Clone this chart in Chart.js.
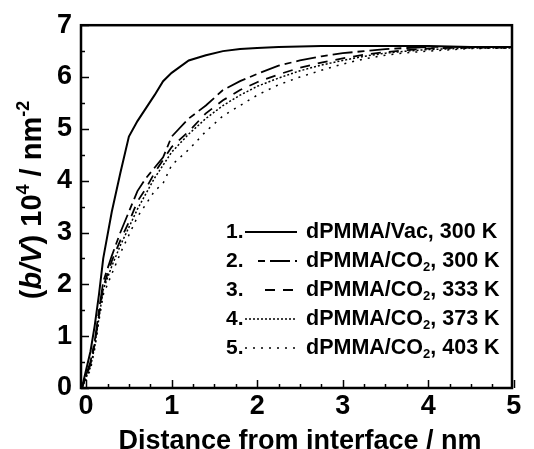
<!DOCTYPE html>
<html>
<head>
<meta charset="utf-8">
<script src="https://cdn.jsdelivr.net/npm/chart.js@4/dist/chart.umd.min.js"></script>
<style>
    html, body { margin: 0; padding: 0; background: #fff; }
    #wrap { width: 534px; height: 449px; }
</style>
</head>
<body>
<div id="wrap"><canvas id="chart" width="534" height="449"></canvas></div>
<script>
// Data
const distance = [-0.05, 0.05, 0.1, 0.15, 0.2, 0.3, 0.4, 0.5, 0.6, 0.7, 0.8, 0.9, 1.0, 1.2, 1.4, 1.6, 1.8, 2.0, 2.25, 2.5, 2.75, 3.0, 3.25, 3.5, 3.75, 4.0, 4.5, 5.0];
const vac300 = [0, 0.7, 1.2, 1.8, 2.5, 3.4, 4.15, 4.85, 5.15, 5.4, 5.65, 5.92, 6.08, 6.32, 6.42, 6.5, 6.54, 6.56, 6.58, 6.59, 6.6, 6.6, 6.6, 6.6, 6.6, 6.6, 6.58, 6.58];
const co2_300 = [0, 0.5, 0.9, 1.5, 2.05, 2.55, 3.0, 3.4, 3.8, 4.05, 4.25, 4.45, 4.85, 5.2, 5.45, 5.75, 5.92, 6.06, 6.22, 6.32, 6.4, 6.46, 6.5, 6.54, 6.56, 6.58, 6.58, 6.58];
const co2_333 = [0, 0.45, 0.85, 1.4, 1.95, 2.45, 2.85, 3.2, 3.6, 3.85, 4.15, 4.4, 4.65, 4.95, 5.3, 5.55, 5.75, 5.9, 6.05, 6.18, 6.28, 6.36, 6.43, 6.48, 6.52, 6.55, 6.57, 6.57];
const co2_373 = [0, 0.4, 0.8, 1.35, 1.9, 2.35, 2.75, 3.1, 3.45, 3.75, 4.05, 4.3, 4.55, 4.9, 5.2, 5.45, 5.65, 5.82, 5.98, 6.12, 6.23, 6.32, 6.4, 6.46, 6.5, 6.53, 6.56, 6.56];
const co2_403 = [0, 0.35, 0.75, 1.3, 1.8, 2.2, 2.6, 2.95, 3.3, 3.55, 3.8, 3.95, 4.3, 4.6, 4.95, 5.25, 5.45, 5.65, 5.85, 6.0, 6.13, 6.25, 6.35, 6.42, 6.47, 6.5, 6.55, 6.56];

const seriesLabels = ["dPMMA/Vac, 300 K", "dPMMA/CO2, 300 K", "dPMMA/CO2, 333 K", "dPMMA/CO2, 373 K", "dPMMA/CO2, 403 K"];
const xTicks = [0, 1, 2, 3, 4, 5];
const yTicks = [0, 1, 2, 3, 4, 5, 6, 7];

const series = [vac300, co2_300, co2_333, co2_373, co2_403];
const dashes = [[], [7, 5, 20, 5], [10, 8], [2, 2], [2, 6]];
const widths = [2, 1.8, 1.8, 1.5, 1.5];

const tickFont = "'Liberation Sans', Arial, sans-serif";
const mainFont = "'Liberation Sans', Arial, sans-serif";

// draw text pieces one after another, sub/sup aware
function drawPieces(ctx, x, y, pieces, size) {
    pieces.forEach(p => {
        const s = p.sub || p.sup ? Math.round(size * 0.62) : size;
        ctx.font = (p.italic ? "italic " : "") + "bold " + s + "px " + mainFont;
        let dy = 0;
        if (p.sub) dy = size * 0.28;
        if (p.sup) dy = -size * 0.42;
        ctx.fillText(p.text, x, y + dy);
        x += ctx.measureText(p.text).width;
    });
    return x;
}

function labelPieces(label) {
    const idx = label.indexOf("CO2");
    if (idx < 0) return [{ text: label }];
    return [
        { text: label.slice(0, idx + 2) },
        { text: "2", sub: true },
        { text: label.slice(idx + 3) }
    ];
}

const framePlugin = {
    id: "frame",
    afterDatasetsDraw(chart) {
        const { ctx, chartArea: a, scales } = chart;
        const xs = scales.x, ys = scales.y;
        ctx.save();
        ctx.strokeStyle = "#000";
        ctx.lineWidth = 1.5;
        // inward ticks on bottom axis
        for (let v = 0; v <= 5.001; v += 0.25) {
            const px = Math.round(xs.getPixelForValue(v)) + 0.5;
            const len = Math.abs(v - Math.round(v)) < 1e-6 ? 8 : 4;
            ctx.beginPath();
            ctx.moveTo(px, a.bottom);
            ctx.lineTo(px, a.bottom - len);
            ctx.stroke();
        }
        // inward ticks on left axis
        for (let v = 0; v <= 7.001; v += 0.5) {
            const py = Math.round(ys.getPixelForValue(v)) + 0.5;
            const len = Math.abs(v - Math.round(v)) < 1e-6 ? 8 : 4;
            ctx.beginPath();
            ctx.moveTo(a.left, py);
            ctx.lineTo(a.left + len, py);
            ctx.stroke();
        }
        ctx.lineWidth = 2.5;
        ctx.strokeRect(a.left, a.top, a.right - a.left, a.bottom - a.top);

        // legend
        const rowY = [232, 261, 290, 319, 348];
        chart.data.datasets.forEach((ds, i) => {
            const y = rowY[i];
            ctx.fillStyle = "#000";
            ctx.textBaseline = "middle";
            ctx.textAlign = "left";
            ctx.font = "bold 21px " + mainFont;
            ctx.fillText((i + 1) + ".", 226, y);
            ctx.beginPath();
            ctx.setLineDash(ds.borderDash || []);
            ctx.lineWidth = ds.borderWidth;
            ctx.moveTo(i === 1 ? 258 : i === 2 ? 265 : 245, y);
            ctx.lineTo(297, y);
            ctx.stroke();
            ctx.setLineDash([]);
            drawPieces(ctx, 306, y, labelPieces(ds.label), 21.5);
        });

        // x title
        ctx.textAlign = "center";
        ctx.textBaseline = "alphabetic";
        ctx.font = "bold 27px " + mainFont;
        ctx.fillText("Distance from interface / nm", 300, 449);

        // y title, rotated
        const yPieces = [
            { text: "(" }, { text: "b/V", italic: true }, { text: ") 10" },
            { text: "4", sup: true }, { text: " / nm" }, { text: "-2", sup: true }
        ];
        let total = 0;
        yPieces.forEach(p => {
            const s = p.sup ? Math.round(29 * 0.62) : 29;
            ctx.font = (p.italic ? "italic " : "") + "bold " + s + "px " + mainFont;
            total += ctx.measureText(p.text).width;
        });
        ctx.translate(41, 200 + total / 2);
        ctx.rotate(-Math.PI / 2);
        ctx.textAlign = "left";
        drawPieces(ctx, 0, 0, yPieces, 29);
        ctx.restore();
    }
};

const datasets = series.map((vals, i) => ({
    label: seriesLabels[i],
    data: distance.map((d, j) => ({ x: d, y: vals[j] })),
    borderColor: "#000",
    borderWidth: widths[i],
    borderDash: dashes[i],
    pointRadius: 0,
    tension: 0,
    fill: false
}));

const chart = new Chart(document.getElementById("chart"), {
    type: "line",
    data: { datasets: datasets },
    options: {
        responsive: false,
        animation: false,
        layout: { padding: { top: 24, right: 22, left: 0, bottom: 0 } },
        plugins: {
            legend: { display: false },
            tooltip: { enabled: false }
        },
        scales: {
            x: {
                type: "linear",
                min: -0.06,
                max: 4.98,
                afterBuildTicks: s => { s.ticks = xTicks.map(v => ({ value: v })); },
                afterFit: s => { s.height = 61; },
                grid: { display: false, drawTicks: false },
                border: { display: false },
                ticks: {
                    color: "#000",
                    padding: 2,
                    maxRotation: 0,
                    font: { family: tickFont, weight: "bold", size: 27 }
                }
            },
            y: {
                min: 0,
                max: 7,
                afterBuildTicks: s => { s.ticks = yTicks.map(v => ({ value: v })); },
                afterFit: s => { s.width = 81; },
                grid: { display: false, drawTicks: false },
                border: { display: false },
                ticks: {
                    color: "#000",
                    padding: 9,
                    font: { family: tickFont, weight: "bold", size: 27 }
                }
            }
        }
    },
    plugins: [framePlugin]
});
</script>
</body>
</html>
